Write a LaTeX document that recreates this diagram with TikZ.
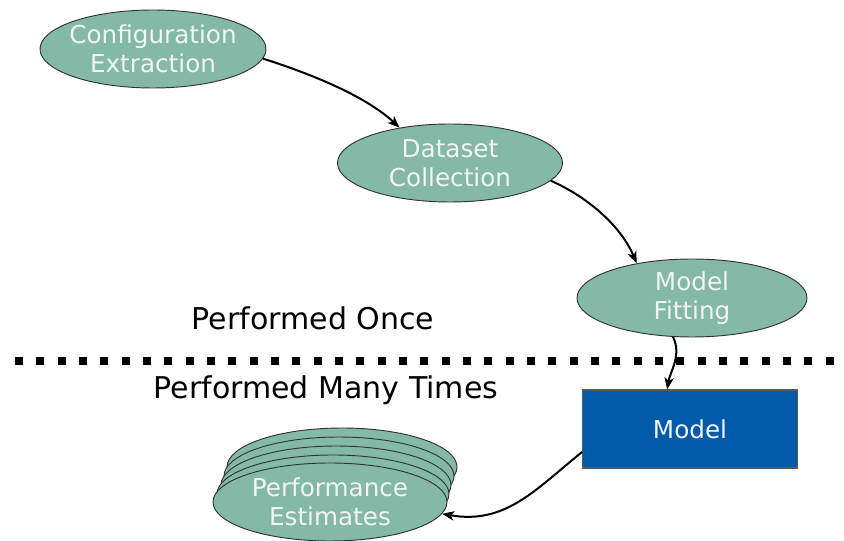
\documentclass[tikz,border=0pt]{standalone}
\usepackage{fontspec}
\setmainfont{DejaVu Sans}
\usetikzlibrary{shapes.geometric,arrows.meta}
\definecolor{ellfill}{HTML}{84B8A7}
\definecolor{modfill}{HTML}{005AAA}
\definecolor{txt}{HTML}{F2F5F3}
\tikzset{
  stage/.style={ellipse,draw=black!80,line width=0.7pt,fill=ellfill,text=txt,
    inner xsep=-8pt,inner ysep=-4pt,minimum width=#1*0.75pt,minimum height=58.5pt,align=center,
    font=\fontsize{18.5}{21.5}\selectfont},
  stage/.default=226,
  modelbox/.style={rectangle,draw=black!65,line width=0.8pt,fill=modfill,text=txt,
    minimum width=161pt,minimum height=58.5pt,inner sep=0pt,
    font=\fontsize{18.5}{21.5}\selectfont},
  flow/.style={line width=1.5pt,-{Stealth[length=9pt,width=7pt,inset=2.5pt]}},
  caption/.style={font=\fontsize{22.5}{27}\selectfont,text=black}
}
\begin{document}
\begin{tikzpicture}[x=0.75pt,y=-0.75pt]
\useasboundingbox (0,0) rectangle (844,541);
\node[stage=226] (ce) at (153,49) {Configuration\\Extraction};
\node[stage=225] (ds) at (450,163) {Dataset\\Collection};
\node[stage=230] (mf) at (692,298) {Model\\Fitting};
\node[modelbox] (m) at (690,429) {Model};
\node[caption] (once) at (313,318) {Performed Once};
\node[caption] (many) at (326,390) {Performed Many Times};
\coordinate (sepL) at (15,361);
\coordinate (sepR) at (844,361);
\draw[line width=6pt,dash pattern=on 6pt off 10pt] (sepL) -- (sepR);
% stacked performance estimates
\node[stage=230] (pe4) at (342,467) {};
\node[stage=230] (pe3) at (339,476) {};
\node[stage=230] (pe2) at (336,485) {};
\node[stage=232] (pe1) at (333,494) {};
\node[stage=234] (pe) at (330,502) {Performance\\Estimates};
% connectors
\draw[flow] (ce.-5) .. controls (330,80) and (372,102) .. (ds.145);
\draw[flow] (ds.-10) .. controls (590,198) and (622,228) .. (mf.148);
\draw[flow] (mf.-116) .. controls (682,355) and (670,372) .. (m.120);
\draw[flow] (m.192) .. controls (535,490) and (505,525) .. (pe.-6);
\end{tikzpicture}
\end{document}
